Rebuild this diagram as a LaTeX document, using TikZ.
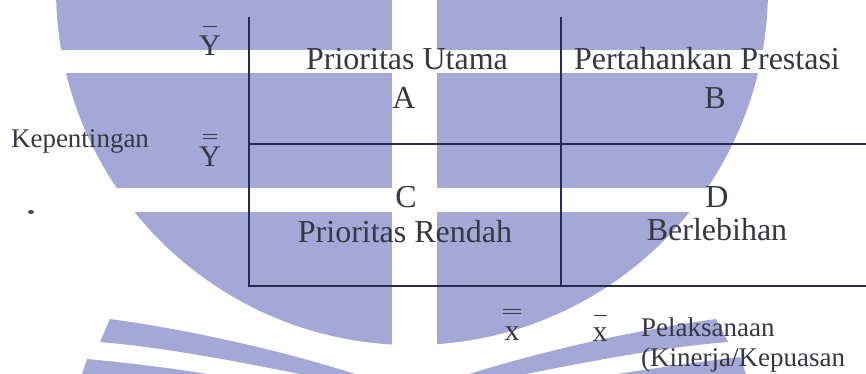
\documentclass[tikz,border=0pt]{standalone}
\usepackage{fontspec}
\setmainfont{Liberation Serif}
\usepackage{xcolor}

\definecolor{wm}{RGB}{164,168,214}
\definecolor{garis}{RGB}{40,42,80}
\definecolor{teks}{RGB}{55,55,68}

% huruf dengan garis rata-rata di atasnya
\newcommand{\satubar}[3]{\ooalign{#3\cr\hidewidth\rule[#1]{#2}{1.3pt}\hidewidth\cr}}
\newcommand{\duabar}[4]{\ooalign{#4\cr\hidewidth\rule[#1]{#3}{1.3pt}\hidewidth\cr\hidewidth\rule[#2]{#3}{1.3pt}\hidewidth\cr}}

\tikzset{
  kuadran/.style={font=\fontsize{32}{36}\selectfont, text=teks, inner sep=0pt, anchor=base},
  sisi/.style={font=\fontsize{27}{30}\selectfont, text=teks, inner sep=0pt, anchor=base},
  rata/.style={font=\fontsize{30}{34}\selectfont, text=teks, inner sep=0pt, anchor=base},
  garisk/.style={draw=garis, line width=1.3pt},
}

\begin{document}
\begin{tikzpicture}[x=1pt, y=-1pt]
    \useasboundingbox (0,0) rectangle (866,374);

    % Latar (logo)
    \begin{scope}
        \clip (0,0) rectangle (866,374);
        \fill[wm] (412,-11) circle[radius=356pt];
        \fill[white] (392,-2) rectangle (437,376);
        \fill[white] (-2,50) rectangle (868,73);
        \fill[white] (-2,188) rectangle (868,212);
        % pita kiri
        \fill[wm] (110,319) .. controls (190,330) and (280,350) .. (355,374) -- (300,374)
            .. controls (230,360) and (160,347) .. (100,342) -- cycle;
        \fill[wm] (87,359) .. controls (130,363) and (170,368) .. (207,374) -- (82,374) -- cycle;
        % pita kanan
        \fill[wm] (716,319) .. controls (636,330) and (546,350) .. (469,374) -- (526,374)
            .. controls (596,360) and (666,347) .. (728,342) -- cycle;
        \fill[wm] (740,357) .. controls (697,362) and (657,368) .. (617,374) -- (746,374) -- cycle;
    \end{scope}
    \fill[gray!60!black] (31,212) ellipse (3pt and 2pt);

    % Garis kuadran
    \coordinate (kiriatas) at (249,17);
    \coordinate (kiribawah) at (249,286);
    \coordinate (tengahatas) at (561,17);
    \coordinate (tengahbawah) at (561,286);
    \coordinate (kiritengah) at (249,144);
    \coordinate (kanantengah) at (866,144);
    \coordinate (kananbawah) at (866,286);
    \draw[garisk] (kiriatas) -- (kiribawah) -- (kananbawah);
    \draw[garisk] (tengahatas) -- (tengahbawah);
    \draw[garisk] (kiritengah) -- (kanantengah);

    % Sumbu Y
    \node[rata] (ybar) at (210,56) {\satubar{29pt}{14pt}{Y}};
    \node[rata] (yrata) at (210,167) {\duabar{28pt}{32pt}{14pt}{Y}};
    \node[sisi] (kepentingan) at (80,148) {Kepentingan};

    % Isi kuadran
    \node[kuadran] (utama) at (407,70) {Prioritas Utama};
    \node[kuadran] (prestasi) at (707,70) {Pertahankan Prestasi};
    \node[kuadran] (a) at (404,109) {A};
    \node[kuadran] (b) at (715,109) {B};
    \node[kuadran] (c) at (406,207) {C};
    \node[kuadran] (d) at (717,207) {D};
    \node[kuadran] (rendah) at (405,242) {Prioritas Rendah};
    \node[kuadran] (lebih) at (717,240) {Berlebihan};

    % Sumbu X
    \node[rata] (xrata) at (512,340) {\duabar{26pt}{30pt}{18pt}{x}};
    \node[rata] (xbar) at (600,341) {\satubar{25pt}{13pt}{x}};
    \node[sisi, anchor=base west] (pelaksanaan) at (641,336) {Pelaksanaan};
    \node[sisi, anchor=base west] (kinerja) at (641,366) {(Kinerja/Kepuasan};
\end{tikzpicture}
\end{document}
